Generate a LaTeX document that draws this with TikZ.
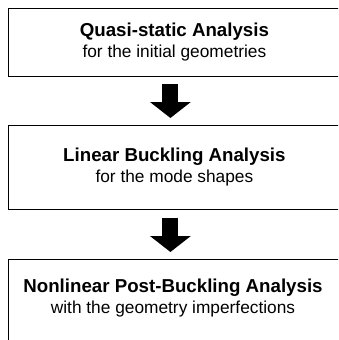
\documentclass[tikz,border=0pt]{standalone}
\usepackage{fontspec}
\setmainfont{Liberation Sans}
\usepackage{tikz}
\usetikzlibrary{arrows.meta,positioning}

\begin{document}
\begin{tikzpicture}[
    x=1pt, y=-1pt,
    stagebox/.style={draw=black, line width=0.8pt, fill=white, anchor=north west,
      minimum width=332pt, inner sep=0pt, align=center,
      font=\fontsize{17.3}{21}\selectfont},
    stagetext/.style={align=center, inner sep=0pt,
      font=\fontsize{17.3}{21}\selectfont},
    flowarrow/.style={line width=16pt, -{Triangle[length=16pt,width=40pt]}},
  ]
    \newcommand{\stagetitle}[1]{{\fontsize{18.7}{21}\selectfont\bfseries #1}}
    \useasboundingbox (0,0) rectangle (338,340);
    \clip (0,0) rectangle (338,340);

    % ============ stage 1: quasi-static ============
    \node[stagebox, minimum height=68pt] (box1) at (8,8)
      {\stagetitle{Quasi-static Analysis}\\ for the initial geometries};

    % ============ stage 2: linear buckling ============
    \node[stagebox, minimum height=84pt] (box2) at (8,125)
      {\stagetitle{Linear Buckling Analysis}\\ for the mode shapes};

    % ============ stage 3: post-buckling ============
    \node[stagebox, minimum height=110pt] (box3) at (8,259) {};
    \node[stagetext] (text3) at (173,298)
      {\stagetitle{Nonlinear Post-Buckling Analysis}\\ with the geometry imperfections};

    % arrows between stages
    \draw[flowarrow] ([xshift=-4pt,yshift=-7pt]box1.south) -- ([xshift=-4pt,yshift=7pt]box2.north);
    \draw[flowarrow] ([xshift=-4pt,yshift=-8pt]box2.south) -- ([xshift=-4pt,yshift=7pt]box3.north);
  \end{tikzpicture}
\end{document}
